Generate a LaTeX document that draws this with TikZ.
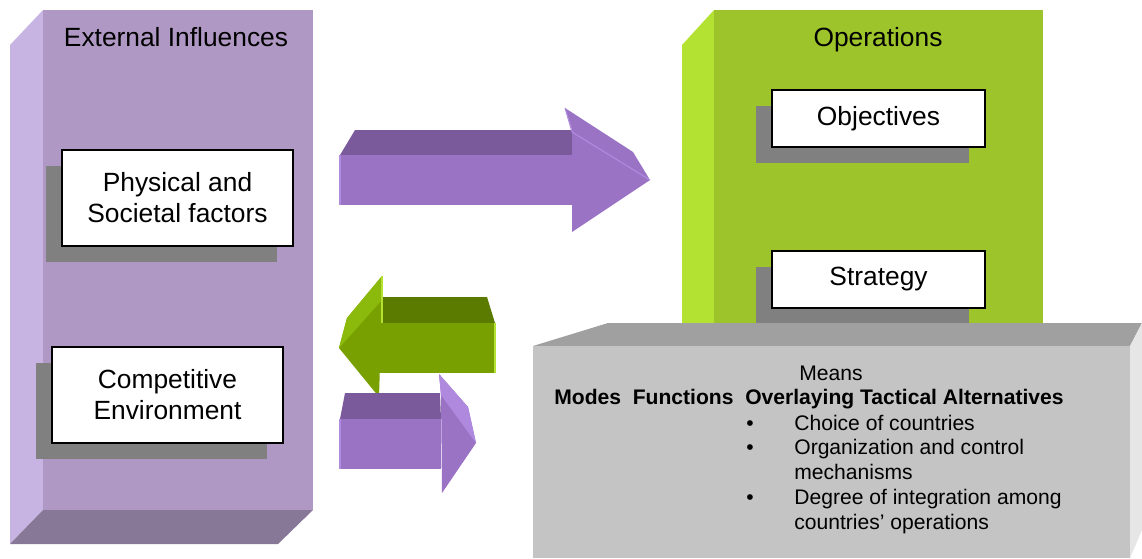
\documentclass[tikz,border=0pt]{standalone}
\usepackage{fontspec}
\setmainfont{Liberation Sans}
\usepackage{tikz}
\usetikzlibrary{shadows}
\usepackage{xcolor}
\definecolor{ext-front}{RGB}{176,152,196}
\definecolor{ext-side}{RGB}{200,180,226}
\definecolor{ext-bottom}{RGB}{136,120,152}
\definecolor{ops-front}{RGB}{157,196,42}
\definecolor{ops-side}{RGB}{180,226,50}
\definecolor{means-front}{RGB}{196,196,196}
\definecolor{means-top}{RGB}{160,160,160}
\definecolor{means-side}{RGB}{230,230,230}
\definecolor{pur-front}{RGB}{155,115,196}
\definecolor{pur-top}{RGB}{122,90,154}
\definecolor{pur-light}{RGB}{176,140,224}
\definecolor{grn-front}{RGB}{120,160,0}
\definecolor{grn-top}{RGB}{90,122,0}
\definecolor{grn-light}{RGB}{140,186,12}
\definecolor{box-shadow}{RGB}{128,128,128}
\newcommand{\bigtxt}{\fontsize{15}{17.6}\selectfont}
\newcommand{\smalltxt}{\fontsize{12}{14.2}\selectfont}

\begin{document}
\begin{tikzpicture}[x=0.02cm, y=-0.02cm,
    box/.style={rectangle, draw=black, line width=0.9pt, fill=white, align=center, inner sep=0pt, font=\bigtxt,
        drop shadow={shadow xshift=-0.32cm, shadow yshift=-0.32cm, fill=box-shadow, opacity=1}},
    title/.style={anchor=base, font=\bigtxt}]

    \useasboundingbox (0,0) rectangle (1142,558);

    % External influences block
    \fill[ext-side] (10,45) -- (43,10) -- (43,510) -- (10,544) -- cycle;
    \fill[ext-bottom] (10,544) -- (43,510) -- (313,510) -- (278,544) -- cycle;
    \fill[ext-front] (43,10) rectangle (313,510);
    \node[title] (ext) at (176,46) {External Influences};

    % Operations block
    \fill[ops-side] (682,45) -- (714,10) -- (714,335) -- (682,335) -- cycle;
    \fill[ops-front] (714,10) rectangle (1043,335);
    \node[title] (ops) at (878,46) {Operations};

    % Boxes
    \node[box, minimum width=4.62cm, minimum height=1.92cm] (phys) at (177.5,198) {Physical and\\Societal factors};
    \node[box, minimum width=4.62cm, minimum height=1.92cm] (comp) at (167.5,395) {Competitive\\Environment};
    \node[box, minimum width=4.26cm, minimum height=1.14cm] (obj) at (878.5,118.5) {Objectives};
    \node[box, minimum width=4.26cm, minimum height=1.14cm] (strat) at (878.5,279.5) {Strategy};

    % Big arrow to operations
    \fill[pur-top] (340,155) -- (355,130) -- (572,130) -- (575,155) -- cycle;
    \fill[pur-front] (565,108) -- (633,152) -- (650,180) -- (572,232) -- (572,130) -- cycle;
    \fill[pur-front] (340,155) rectangle (575,205);
    \draw[pur-light, line width=0.6pt] (565,108) -- (572,132) -- (650,180);
    \draw[pur-light, line width=0.6pt] (340,155) -- (340,205);

    % Green arrow back
    \fill[grn-top] (380,297) -- (487,297) -- (495,323) -- (380,323) -- cycle;
    \fill[grn-front] (382,276) -- (347,318) -- (339,348) -- (379,397) -- (382,300) -- cycle;
    \fill[grn-light] (382,276) -- (347,318) -- (339,348) -- (382,300) -- cycle;
    \fill[grn-front] (380,323) rectangle (495,373);
    \draw[ops-side, line width=0.8pt] (382,276) -- (382,323);
    \draw[ops-side, line width=0.8pt] (495,323) -- (495,373);

    % Small arrow
    \fill[pur-top] (340,419) -- (345,393) -- (440,393) -- (441,419) -- cycle;
    \fill[pur-front] (439,374) -- (468,407) -- (476,443) -- (442,493) -- (441,395) -- cycle;
    \fill[pur-light!90!pur-front] (439,374) -- (468,407) -- (476,443) -- (441,395) -- cycle;
    \fill[pur-front] (340,419) rectangle (441,469);
    \draw[pur-light, line width=0.6pt] (340,419) -- (340,469);

    % Means block
    \fill[means-top] (533,346) -- (608,323) -- (1142,323) -- (1130,346) -- cycle;
    \fill[means-side] (1130,346) -- (1142,323) -- (1142,530) -- (1130,558) -- cycle;
    \fill[means-front] (533,346) rectangle (1130,558);
    \node[anchor=base, font=\smalltxt] (means) at (831,380) {Means};
    \node[anchor=base west, font=\smalltxt\bfseries, inner sep=0pt] (modes) at (554,404) {Modes\ \ Functions\ \ Overlaying Tactical Alternatives};
    \node[anchor=base west, font=\smalltxt, inner sep=0pt] (alt) at (746,430) {%
        \begin{tabular}[t]{@{}p{0.96cm}@{}l@{}}
        \textbullet & Choice of countries\\
        \textbullet & Organization and control\\
                    & mechanisms\\
        \textbullet & Degree of integration among\\
                    & countries' operations
        \end{tabular}};
\end{tikzpicture}
\end{document}
